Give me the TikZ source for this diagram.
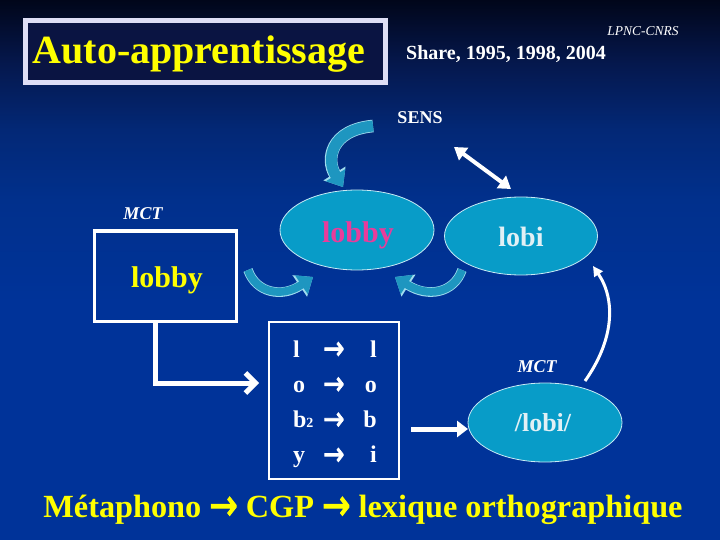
\documentclass[tikz,border=0pt]{standalone}
\usepackage{fontspec}
\setmainfont{Liberation Serif}
\newfontfamily\arrowf[FakeBold=2.5]{DejaVu Sans}
\usetikzlibrary{arrows.meta,shapes.geometric}
\definecolor{bgtop}{RGB}{1,6,26}
\definecolor{bgmA}{RGB}{5,24,78}
\definecolor{bgmB}{RGB}{3,40,118}
\definecolor{bgmC}{RGB}{1,48,140}
\definecolor{bgbot}{RGB}{0,51,153}
\definecolor{titleborder}{RGB}{222,222,245}
\definecolor{titlefill}{RGB}{10,20,66}
\definecolor{ellfill}{RGB}{8,156,200}
\definecolor{ellborder}{RGB}{200,235,245}
\definecolor{pinktext}{RGB}{232,60,155}
\definecolor{lighttext}{RGB}{225,240,245}
\definecolor{yel}{RGB}{255,255,0}
\definecolor{arrowcyan}{RGB}{30,150,192}
\definecolor{arrowedge}{RGB}{160,220,238}
\pgfdeclareverticalshading{bgshade}{100bp}{color(0bp)=(bgbot); color(47bp)=(bgbot); color(56.5bp)=(bgmC); color(63bp)=(bgmB); color(69bp)=(bgmA); color(75bp)=(bgtop); color(100bp)=(bgtop)}
\newcommand{\wdarr}{{\mdseries\arrowf\raisebox{-0.09em}{\scalebox{1.05}[1.35]{→}}}}
\begin{document}
\begin{tikzpicture}[x=1pt,y=-1pt,
  every node/.style={inner sep=0pt, outer sep=0pt},
  ell/.style={ellipse, draw=ellborder, line width=0.8pt, fill=ellfill},
  cyanarrow/.style={line width=#1, draw=arrowcyan, -{Triangle[width=22pt,length=14pt]},
     preaction={draw=arrowedge, line width=#1+1.6pt, -{Triangle[width=25pt,length=16pt]}}},
  whitearrow/.style={draw=white, line width=5pt},
  bigtext/.style={font=\bfseries\fontsize{30}{30}\selectfont},
  mct/.style={font=\bfseries\itshape\fontsize{18}{18}\selectfont, text=white}]
\useasboundingbox (0,0) rectangle (720,540);
\shade[shading=bgshade] (0,0) rectangle (720,540);

% title
\node[draw=titleborder, line width=5pt, fill=titlefill, minimum width=360pt, minimum height=62pt] (titlebox) at (205.5,51.5) {};
\node[anchor=base, text=yel, font=\bfseries\fontsize{40}{40}\selectfont] (title) at (199,64) {Auto-apprentissage};
\node[anchor=base, text=white, font=\itshape\fontsize{13.5}{13.5}\selectfont] (lpnc) at (643,36) {LPNC-CNRS};
\node[anchor=base, text=white, font=\bfseries\fontsize{20}{20}\selectfont] (share) at (506,60) {Share, 1995, 1998, 2004};
\node[anchor=base, text=white, font=\bfseries\fontsize{18}{18}\selectfont] (sens) at (420,124) {SENS};

% ellipses
\node[ell, minimum width=154pt, minimum height=80pt] (lobbyE) at (357,230) {};
\node[anchor=base, text=pinktext, bigtext] (lobbyT) at (358,242) {lobby};
\node[ell, minimum width=153pt, minimum height=78pt] (lobiE) at (521,236) {};
\node[anchor=base, text=lighttext, font=\bfseries\fontsize{28}{28}\selectfont] (lobiT) at (521,246) {lobi};
\node[ell, minimum width=154pt, minimum height=79pt] (phonE) at (545,422.5) {};
\node[anchor=base, text=lighttext, font=\bfseries\fontsize{26}{26}\selectfont] (phonT) at (543,431) {/lobi/};
\node[anchor=base, mct] (mct2) at (537,372) {MCT};

% MCT box
\node[draw=white, line width=3pt, minimum width=142pt, minimum height=90pt] (mctbox) at (165,276) {};
\node[anchor=base, mct] (mct1) at (143,219) {MCT};
\node[anchor=base, text=yel, bigtext] (lobbyY) at (167,287) {lobby};

% rule box
\node[draw=white, line width=1.2pt, minimum width=130pt, minimum height=157pt] (rules) at (334,400.5) {};
\node[anchor=base west, text=white, font=\bfseries\fontsize{24}{35.3}\selectfont] (ruletext) at (293,357)
  {\begin{tabular}[t]{@{}l@{\hspace{10pt}}c@{\hspace{19pt}}r@{}}
   l & \wdarr & l\\
   o & \wdarr & o\\
   b{\fontsize{14}{14}\selectfont 2} & \wdarr & b\\
   y & \wdarr & i
   \end{tabular}};

% bottom line
\node[anchor=base, text=yel, font=\bfseries\fontsize{32.3}{32.3}\selectfont] (bottom) at (363,517)
  {Métaphono \wdarr{} CGP \wdarr{} lexique orthographique};

% connectors
\coordinate (sensTail) at (373,126);
\coordinate (sensHead) at (343,187);
\draw[cyanarrow=11pt] (sensTail) .. controls (330,130) and (326,160) .. (sensHead);
\coordinate (c2Tail) at (248,270);
\coordinate (c2Head) at (313,277);
\draw[cyanarrow=8pt] (c2Tail) .. controls (256,293) and (282,298) .. (c2Head);
\coordinate (c3Tail) at (462,270);
\coordinate (c3Head) at (395,277);
\draw[cyanarrow=8pt] (c3Tail) .. controls (454,293) and (428,298) .. (c3Head);

\coordinate (dblA) at (454,147);
\coordinate (dblB) at (511,189);
\draw[draw=white, line width=4pt, {Triangle[width=15pt,length=12pt]}-{Triangle[width=15pt,length=12pt]}] (dblA) -- (dblB);

\coordinate (lcorner) at (155.5,383);
\coordinate (lEnd) at (259,383);
\draw[whitearrow, line join=miter, -{Straight Barb[length=10pt,width=20pt]}] (mctbox.south -| lcorner) -- (lcorner) -- (lEnd);
\coordinate (hA) at (411,429);
\draw[whitearrow, -{Triangle[length=11pt,width=16pt]}] (hA) -- (phonE.west |- hA);
\coordinate (rcA) at (585,381);
\coordinate (rcB) at (593,266);
\draw[draw=white, line width=3pt, -{Triangle[length=10pt,width=10pt]}] (rcA) .. controls (614,340) and (616,300) .. (rcB);
\end{tikzpicture}
\end{document}
